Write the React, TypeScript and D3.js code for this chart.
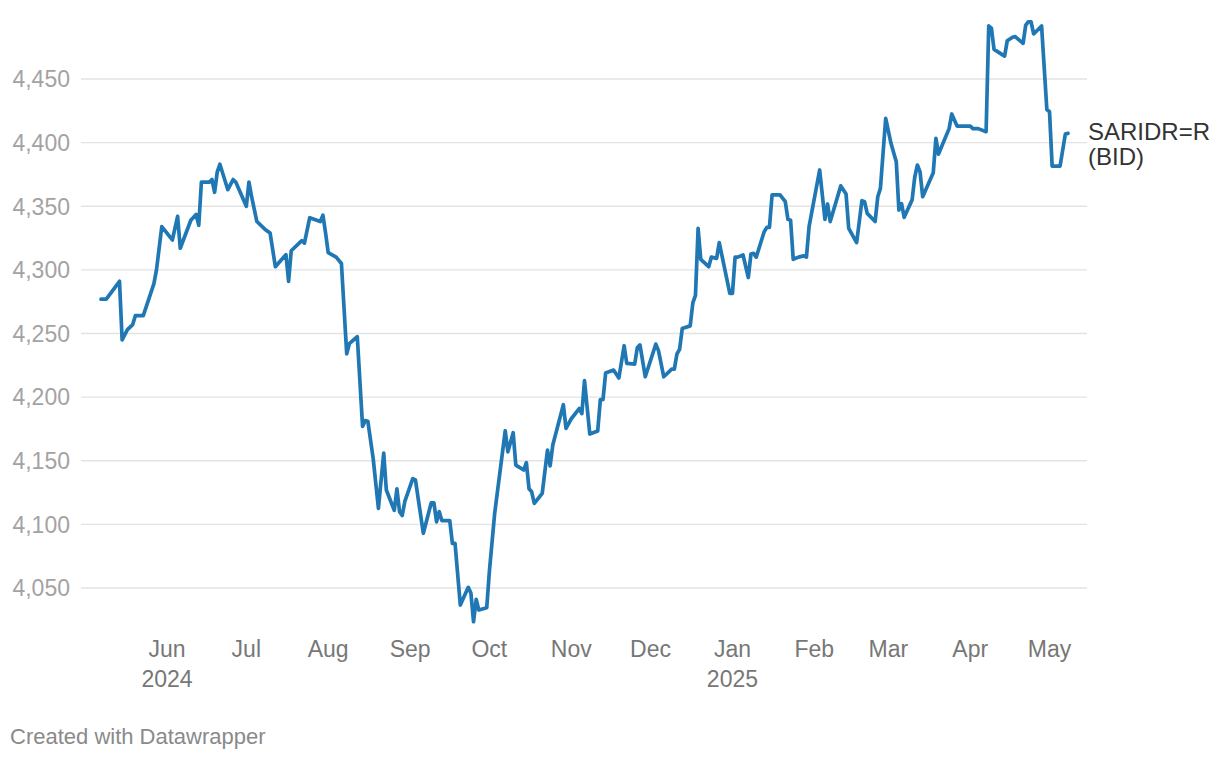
import React from "react";
import * as d3 from "d3";

const seriesName = ["SARIDR=R", "(BID)"];
const yTicks = [4050, 4100, 4150, 4200, 4250, 4300, 4350, 4400, 4450];
const monthLabels = ["Jun", "Jul", "Aug", "Sep", "Oct", "Nov", "Dec", "Jan", "Feb", "Mar", "Apr", "May"];
const monthStarts = ["2024-06-01", "2024-07-01", "2024-08-01", "2024-09-01", "2024-10-01", "2024-11-01", "2024-12-01", "2025-01-01", "2025-02-01", "2025-03-01", "2025-04-01", "2025-05-01"];
const yearLabels = ["2024", "2025"];
const yearAt = ["2024-06-01", "2025-01-01"];

const dates = [
  "2024-05-07","2024-05-09","2024-05-14","2024-05-15","2024-05-17","2024-05-19","2024-05-20","2024-05-23","2024-05-27","2024-05-28","2024-05-30",
  "2024-06-03","2024-06-05","2024-06-06","2024-06-10","2024-06-12","2024-06-13","2024-06-14","2024-06-17","2024-06-18","2024-06-19","2024-06-20","2024-06-21","2024-06-24","2024-06-26","2024-06-27",
  "2024-07-01","2024-07-02","2024-07-03","2024-07-05","2024-07-08","2024-07-10","2024-07-12","2024-07-16","2024-07-17","2024-07-18","2024-07-22","2024-07-23","2024-07-25","2024-07-29","2024-07-30","2024-07-31",
  "2024-08-01","2024-08-04","2024-08-06","2024-08-08","2024-08-09","2024-08-12","2024-08-14","2024-08-15","2024-08-16","2024-08-18","2024-08-20","2024-08-22","2024-08-23","2024-08-26","2024-08-27","2024-08-28","2024-08-29","2024-08-30",
  "2024-09-02","2024-09-03","2024-09-06","2024-09-09","2024-09-10","2024-09-11","2024-09-12","2024-09-13","2024-09-16","2024-09-17","2024-09-18","2024-09-20","2024-09-23","2024-09-24","2024-09-25","2024-09-26","2024-09-27","2024-09-30",
  "2024-10-01","2024-10-03","2024-10-07","2024-10-08","2024-10-10","2024-10-11","2024-10-14","2024-10-15","2024-10-16","2024-10-17","2024-10-18","2024-10-21","2024-10-23","2024-10-24","2024-10-25","2024-10-29","2024-10-30",
  "2024-11-01","2024-11-04","2024-11-05","2024-11-06","2024-11-08","2024-11-11","2024-11-12","2024-11-13","2024-11-14","2024-11-17","2024-11-19","2024-11-21","2024-11-22","2024-11-25","2024-11-26","2024-11-27","2024-11-29",
  "2024-12-03","2024-12-04","2024-12-06","2024-12-09","2024-12-10","2024-12-11","2024-12-12","2024-12-13","2024-12-16","2024-12-17","2024-12-18","2024-12-19","2024-12-20","2024-12-23","2024-12-24","2024-12-26","2024-12-27","2024-12-31",
  "2025-01-01","2025-01-02","2025-01-03","2025-01-05","2025-01-07","2025-01-08","2025-01-09","2025-01-10","2025-01-13","2025-01-14","2025-01-15","2025-01-16","2025-01-19","2025-01-21","2025-01-22","2025-01-23","2025-01-24","2025-01-26","2025-01-28","2025-01-29","2025-01-30",
  "2025-02-03","2025-02-05","2025-02-06","2025-02-07","2025-02-11","2025-02-13","2025-02-14","2025-02-17","2025-02-19","2025-02-20","2025-02-21","2025-02-24","2025-02-25","2025-02-26","2025-02-28",
  "2025-03-02","2025-03-04","2025-03-05","2025-03-06","2025-03-07","2025-03-10","2025-03-11","2025-03-12","2025-03-13","2025-03-14","2025-03-18","2025-03-19","2025-03-20","2025-03-24","2025-03-25","2025-03-27",
  "2025-04-01","2025-04-02","2025-04-04","2025-04-07","2025-04-08","2025-04-09","2025-04-10","2025-04-14","2025-04-15","2025-04-17","2025-04-18","2025-04-21","2025-04-22","2025-04-23","2025-04-24","2025-04-25","2025-04-28","2025-04-30",
  "2025-05-01","2025-05-02","2025-05-05","2025-05-07","2025-05-08",
];

const values = [
  4277, 4277, 4291, 4245, 4253, 4257, 4264, 4264, 4289, 4300, 4334,
  4323.5, 4342, 4317, 4339, 4343.6, 4335, 4369, 4369, 4371, 4361, 4377, 4383, 4363, 4371, 4369,
  4350, 4369, 4357.5, 4338, 4332, 4329, 4302.5, 4312, 4291, 4315, 4323, 4321, 4341, 4338, 4343, 4329,
  4313.5, 4310, 4305, 4234, 4242, 4247.5, 4177, 4181.5, 4181, 4152, 4112.6, 4156, 4127, 4111, 4128, 4110, 4107, 4118,
  4136, 4135, 4093, 4117, 4117, 4102, 4110, 4103, 4103, 4085, 4085, 4036.6, 4050.5, 4046, 4023.5, 4041, 4032.7, 4034.5,
  4063, 4108.6, 4173.6, 4157, 4172, 4146.6, 4142.7, 4148.5, 4128, 4125.6, 4116.5, 4124.4, 4158.4, 4146, 4162.4, 4194, 4175.5,
  4183, 4191, 4187, 4213, 4171, 4173.4, 4198, 4198, 4219, 4221.3, 4215, 4240.4, 4226.5, 4226, 4239, 4241, 4216,
  4241.7, 4236.5, 4216, 4222, 4222, 4234, 4237.6, 4254, 4256, 4274, 4280, 4332.6, 4308.3, 4302.5, 4310, 4309, 4321.4, 4281.5,
  4281.5, 4310, 4310, 4311.7, 4294, 4312.5, 4313, 4310, 4330, 4333.4, 4333.4, 4359, 4359, 4353.6, 4339.7, 4339, 4308.3, 4310, 4311, 4310, 4334,
  4378.5, 4339.7, 4351.8, 4338, 4366, 4359.6, 4332.6, 4321.4, 4354.4, 4353.6, 4344.4, 4338, 4357.5, 4364, 4419,
  4399.5, 4385, 4347, 4352, 4341.3, 4355, 4373, 4382.4, 4377, 4357.5, 4376.4, 4403.4, 4391, 4411, 4422.5, 4413,
  4413, 4411, 4411, 4408.6, 4491.7, 4490, 4473.3, 4468, 4480, 4482.8, 4483.3, 4478, 4492.4, 4495, 4495, 4485.4, 4491.7, 4426,
  4424.3, 4381.6, 4381.6, 4406.8, 4407.3,
];

const W = 1220;
const H = 760;
const FONT = "'Liberation Sans', Arial, Helvetica, sans-serif";

export default function App() {
  const parse = d3.utcParse("%Y-%m-%d");
  const n = Math.min(dates.length, values.length);
  const data = d3.range(n).map((i) => ({ date: parse(dates[i]) as Date, value: values[i] }));

  const x = d3
    .scaleUtc()
    .domain([parse("2024-05-07") as Date, parse("2025-05-08") as Date])
    .range([101, 1068]);
  const y = d3.scaleLinear().domain([4050, 4450]).range([588, 79]);

  const line = d3
    .line<{ date: Date; value: number }>()
    .x((d) => x(d.date))
    .y((d) => y(d.value))
    .curve(d3.curveLinear);

  const last = data[data.length - 1];
  const lx = x(last.date) + 20;

  return (
    <svg
      width={W}
      height={H}
      viewBox={`0 0 ${W} ${H}`}
      style={{ position: "absolute", left: 0, top: 0, display: "block", background: "#fff" }}
    >
      <g>
        {yTicks.map((t) => (
          <g key={t}>
            <line x1={81} x2={1087} y1={y(t)} y2={y(t)} stroke="#e3e3e3" strokeWidth={1.3} />
            <text
              x={70}
              y={y(t)}
              dy="0.36em"
              textAnchor="end"
              fontFamily={FONT}
              fontSize={23}
              fill="#a3a3a3"
            >
              {d3.format(",")(t)}
            </text>
          </g>
        ))}
      </g>
      <g>
        {monthStarts.map((m, i) => (
          <text
            key={m}
            x={x(parse(m) as Date)}
            y={657}
            textAnchor="middle"
            fontFamily={FONT}
            fontSize={23}
            fill="#777"
          >
            {monthLabels[i]}
          </text>
        ))}
        {yearAt.map((m, i) => (
          <text
            key={m}
            x={x(parse(m) as Date)}
            y={687}
            textAnchor="middle"
            fontFamily={FONT}
            fontSize={23}
            fill="#777"
          >
            {yearLabels[i]}
          </text>
        ))}
      </g>
      <path
        d={line(data) || ""}
        fill="none"
        stroke="#1f77b4"
        strokeWidth={3.7}
        strokeLinejoin="round"
        strokeLinecap="round"
      />
      <text fontFamily={FONT} fontSize={24} fill="#333">
        <tspan x={lx} y={140}>{seriesName[0]}</tspan>
        <tspan x={lx} y={165}>{seriesName[1]}</tspan>
      </text>
      <text x={10} y={744} fontFamily={FONT} fontSize={22} fill="#8a8a8a">
        Created with Datawrapper
      </text>
    </svg>
  );
}
